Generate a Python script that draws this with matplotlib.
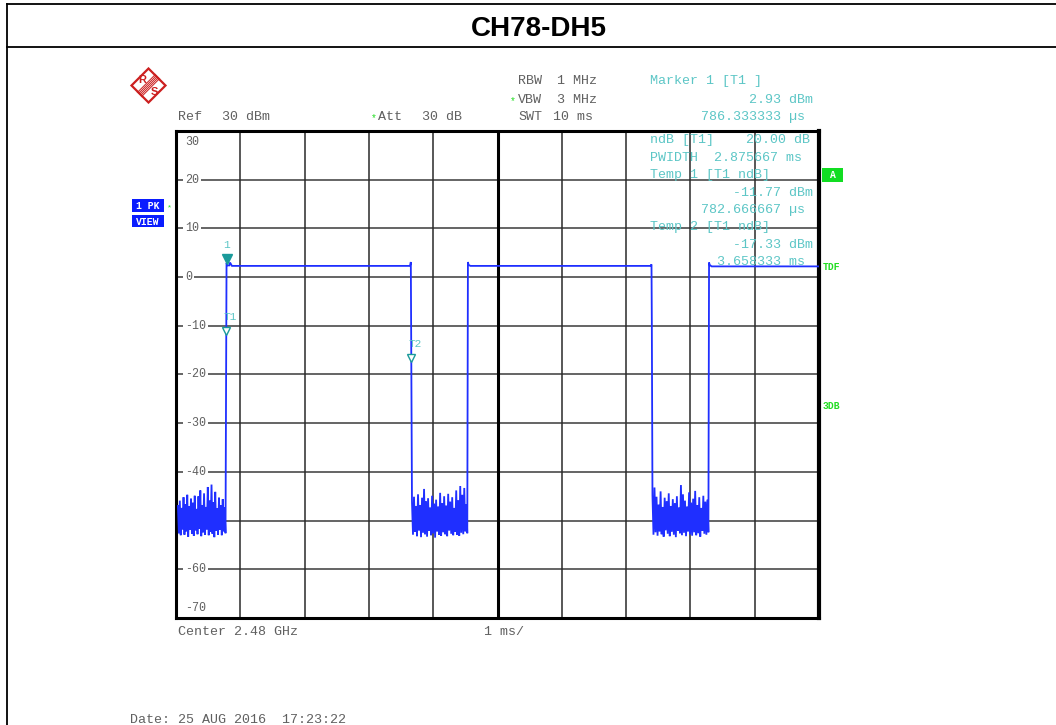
import numpy as np
import matplotlib
matplotlib.use('Agg')
import matplotlib.pyplot as plt
from matplotlib.patches import Rectangle, Polygon

# ---------------- data ----------------
title = "CH78-DH5"
x_range_ms = (0.0, 10.0)
y_range_db = (-70.0, 30.0)
y_tick_vals = [30, 20, 10, 0, -10, -20, -30, -40, -60, -70]

# noise floor segments (dBm), sampled evenly across each segment span (ms)
noise1_span = (0.03, 0.77)
noise1 = [-47.0, -52.6, -45.9, -53.0, -47.4, -51.8, -45.2, -52.9, -46.6, -52.2, -44.7, -53.3,
          -47.1, -51.9, -45.5, -52.7, -46.3, -53.1, -44.9, -52.0, -47.6, -52.8, -45.0, -51.7,
          -43.8, -53.2, -46.8, -52.4, -44.4, -52.9, -47.2, -51.8, -43.1, -53.0, -45.9, -52.3,
          -42.6, -52.7, -46.2, -53.4, -44.1, -52.1, -47.5, -52.9, -45.3, -51.9, -46.9, -53.0,
          -45.6, -52.2, -47.3, -52.6]
noise2_span = (3.67, 4.53)
noise2 = [-46.2, -52.9, -45.1, -52.3, -47.0, -53.2, -44.6, -52.0, -46.8, -53.4, -45.3, -52.5,
          -43.5, -52.8, -46.0, -53.3, -45.4, -52.1, -47.3, -53.0, -44.9, -52.6, -46.5, -53.5,
          -45.7, -52.2, -47.1, -52.9, -44.3, -53.1, -46.4, -52.4, -45.0, -52.8, -46.9, -53.2,
          -44.5, -52.0, -46.1, -52.7, -45.2, -53.0, -47.4, -52.3, -43.8, -52.9, -45.8, -53.1,
          -42.9, -52.5, -44.7, -52.8, -43.3, -52.2, -46.6, -52.6]
noise3_span = (7.41, 8.28)
noise3 = [-44.8, -52.9, -43.2, -52.4, -45.1, -53.1, -46.7, -52.2, -44.0, -52.8, -47.2, -53.3,
          -45.3, -52.0, -46.0, -52.7, -44.4, -53.2, -47.0, -52.3, -45.6, -52.9, -46.4, -53.4,
          -45.0, -52.1, -47.3, -52.6, -42.7, -53.0, -44.6, -52.5, -45.9, -53.2, -47.1, -52.2,
          -44.2, -52.8, -46.3, -53.1, -45.5, -52.4, -43.9, -53.0, -46.8, -52.6, -45.2, -53.3,
          -47.4, -52.1, -44.9, -52.7, -46.1, -52.9, -45.7, -52.4]

# pulse (on) segments: times (ms) and levels (dBm)
pulse1_t = [0.786, 0.80, 0.83, 0.84, 0.87, 3.64, 3.652]
pulse1_v = [2.93, 2.4, 2.4, 3.0, 2.3, 2.3, 3.1]
pulse2_t = [4.54, 4.55, 4.58, 7.38, 7.395, 7.40]
pulse2_v = [3.1, 2.5, 2.3, 2.3, 2.6, -9.0]
pulse3_t = [8.29, 8.30, 8.33, 10.0]
pulse3_v = [3.0, 2.5, 2.2, 2.2]

# markers
marker1 = (0.786333, 2.93)
temp1 = (0.782667, -11.77)
temp2 = (3.658333, -17.33)

# ---------------- figure ----------------
W, H = 1056, 725
fig = plt.figure(figsize=(W / 100, H / 100), dpi=100)
fig.patch.set_facecolor('white')

ax = fig.add_axes([176 / W, 1 - 618 / H, (819 - 176) / W, (618 - 131) / H])
ov = fig.add_axes([0, 0, 1, 1])
ov.set_xlim(0, W)
ov.set_ylim(H, 0)
ov.axis('off')
ov.patch.set_alpha(0)
ov.set_zorder(5)

MONO = 'Liberation Mono'
GRAY = '#606060'
TEAL = '#5cc6c6'
TEAL_D = '#1a9a9a'
GREEN = '#22dd22'
BLUE = '#1f2fff'

# ---- plot area ----
ax.set_xlim(*x_range_ms)
ax.set_ylim(*y_range_db)
ax.set_xticks([])
ax.set_yticks([])
for s in ax.spines.values():
    s.set_linewidth(2.2)
    s.set_color('black')
ax.spines['right'].set_linewidth(3)

for yv in range(-60, 30, 10):
    ax.axhline(yv, color='#3a3a3a', lw=1.1, zorder=1)
for xv in range(1, 10):
    if xv == 5:
        ax.axvline(xv, color='black', lw=2.2, zorder=1)
    else:
        ax.axvline(xv, color='#2a2a2a', lw=1.1, zorder=1)

# y tick labels inside the plot
dx_per_px = (x_range_ms[1] - x_range_ms[0]) / (819 - 176)
dy_per_px = (y_range_db[1] - y_range_db[0]) / (618 - 131)
for v in y_tick_vals:
    yy = v
    if v == 30:
        yy = v - 11 * dy_per_px
    if v == -70:
        yy = v + 10 * dy_per_px
    lab = str(v) if v >= 0 else '-' + str(-v)
    ax.text(9 * dx_per_px, yy, lab, fontsize=8.4, family=MONO, color=GRAY,
            ha='left', va='center', zorder=2,
            bbox=dict(facecolor='white', edgecolor='none', pad=1.2))

# trace
tx, ty = [], []
tx += list(np.linspace(*noise1_span, len(noise1))); ty += noise1
tx += pulse1_t; ty += pulse1_v
tx += list(np.linspace(*noise2_span, len(noise2))); ty += noise2
tx += pulse2_t; ty += pulse2_v
tx += list(np.linspace(*noise3_span, len(noise3))); ty += noise3
tx += pulse3_t; ty += pulse3_v
ax.plot(tx, ty, color=BLUE, lw=1.3, zorder=3, solid_joinstyle='miter')

# markers
ax.plot(marker1[0], marker1[1] + 0.8, marker='v', ms=7, color=TEAL_D, zorder=4)
ax.text(marker1[0], marker1[1] + 3.6, '1', fontsize=8, family=MONO, color=TEAL,
        ha='center', va='center', zorder=4)
for (mx, my), lab in [(temp1, 'T1'), (temp2, 'T2')]:
    ax.plot(mx, my + 0.8, marker='v', ms=6, mfc='white', mec=TEAL_D, mew=1, zorder=4)
    ax.text(mx + 0.06, my + 3.5, lab, fontsize=8, family=MONO, color=TEAL,
            ha='center', va='center', zorder=4)

# ---- outer frame and title ----
ov.plot([6.5, W], [4, 4], color='black', lw=1.3)
ov.plot([6.5, 6.5], [4, H], color='black', lw=1.3)
ov.plot([6.5, W], [46.5, 46.5], color='black', lw=1.3)
ov.text(539, 29, title, fontsize=20, fontweight='bold', family='Liberation Sans',
        ha='center', va='center', color='black')

# ---- R&S logo ----
cx, cy, r = 148.5, 85.5, 17
ov.add_patch(Polygon([[cx, cy - r], [cx + r, cy], [cx, cy + r], [cx - r, cy]],
                     closed=True, fill=False, edgecolor='#cc2020', lw=1.6))
for off in np.linspace(-3, 3, 5):
    ov.plot([cx - 9 + off * 0.7, cx + 9 + off * 0.7], [cy + 9 + off * 0.7, cy - 9 + off * 0.7],
            color='#cc2020', lw=0.7)
ov.text(cx - 6, cy - 6, 'R', fontsize=8, color='#cc2020', family='Liberation Sans',
        ha='center', va='center', fontweight='bold')
ov.text(cx + 6, cy + 6, 'S', fontsize=8, color='#cc2020', family='Liberation Sans',
        ha='center', va='center', fontweight='bold')

# ---- header texts ----
FS = 9.6
def t(x, y, s, c=GRAY, **kw):
    ov.text(x, y, s, fontsize=kw.pop('fs', FS), family=MONO, color=c,
            ha=kw.pop('ha', 'left'), va=kw.pop('va', 'center'), **kw)

t(178, 117, 'Ref'); t(222, 117, '30 dBm')
t(371, 118, '*', GREEN, fs=7); t(378, 117, 'Att'); t(422, 117, '30 dB')
t(518, 81, 'RBW'); t(557, 81, '1 MHz')
t(510, 101, '*', GREEN, fs=7); t(518, 100, 'VBW'); t(557, 100, '3 MHz')
t(518, 117, 'SWT'); t(553, 117, '10 ms')

t(650, 81, 'Marker 1 [T1 ]', TEAL)
t(749, 100, '2.93 dBm', TEAL)
t(701, 117, '786.333333 µs', TEAL)
t(650, 140, 'ndB [T1]    20.00 dB', TEAL)
t(650, 158, 'PWIDTH  2.875667 ms', TEAL)
t(650, 175, 'Temp 1 [T1 ndB]', TEAL)
t(733, 193, '-11.77 dBm', TEAL)
t(701, 210, '782.666667 µs', TEAL)
t(650, 227, 'Temp 2 [T1 ndB]', TEAL)
t(733, 245, '-17.33 dBm', TEAL)
t(717, 262, '3.658333 ms', TEAL)

# left boxes
ov.add_patch(Rectangle((132, 199), 32, 13, facecolor='#0a1cff', edgecolor='none'))
ov.add_patch(Rectangle((132, 215), 32, 12, facecolor='#0a1cff', edgecolor='none'))
ov.text(148, 205.5, '1 PK', fontsize=7, family=MONO, color='white', fontweight='bold',
        ha='center', va='center')
ov.text(148, 221.5, 'VIEW', fontsize=7, family=MONO, color='white', fontweight='bold',
        ha='center', va='center')
t(167, 208, '*', GREEN, fs=6)

# right labels
ov.add_patch(Rectangle((822, 168), 21, 14, facecolor='#11dd22', edgecolor='none'))
ov.text(832.5, 175, 'A', fontsize=7, family=MONO, color='white', fontweight='bold',
        ha='center', va='center')
t(823, 267, 'TDF', GREEN, fs=7, fontweight='bold')
t(823, 406, '3DB', GREEN, fs=7, fontweight='bold')

# bottom texts
t(178, 632, 'Center 2.48 GHz')
t(484, 632, '1 ms/')
t(130, 714, 'Date: 25 AUG 2016  17:23:22', va='top')

fig.savefig('out.png', dpi=100)
